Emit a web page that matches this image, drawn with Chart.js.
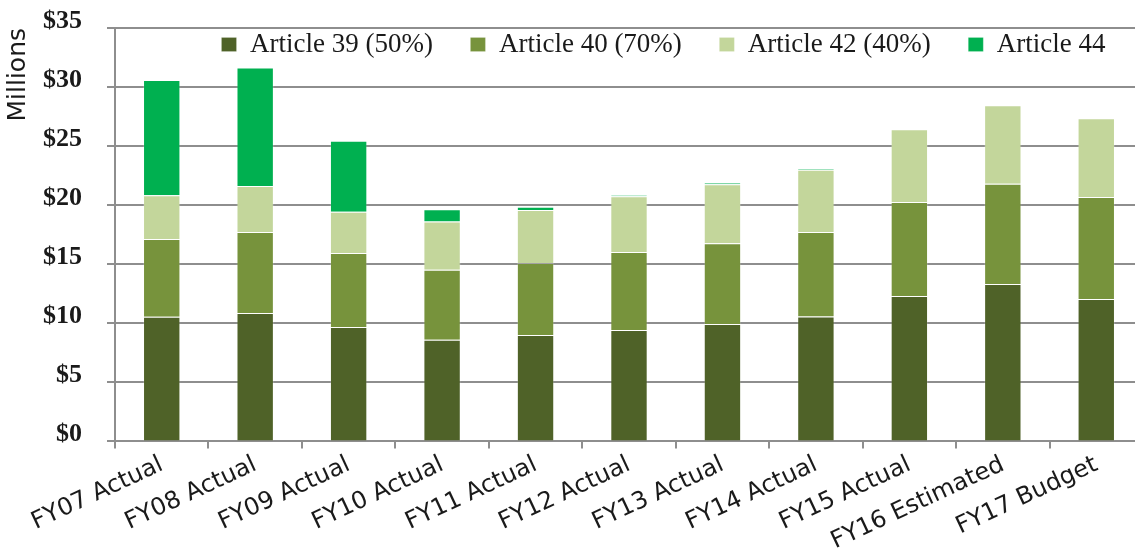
<!DOCTYPE html>
<html>
<head>
<meta charset="utf-8">
<script src="https://cdn.jsdelivr.net/npm/chart.js@4"></script>
<style>
  html, body { margin: 0; padding: 0; background: #fff; overflow: hidden; }
  #wrap { width: 1143px; height: 548px; }
</style>
</head>
<body>
<div id="wrap"><canvas id="funding-chart"></canvas></div>
<script>
const categories = ['FY07 Actual', 'FY08 Actual', 'FY09 Actual', 'FY10 Actual', 'FY11 Actual', 'FY12 Actual',
    'FY13 Actual', 'FY14 Actual', 'FY15 Actual', 'FY16 Estimated', 'FY17 Budget'];
const article39 = [10.55, 10.88, 9.70, 8.62, 9.02, 9.44, 9.95, 10.57, 12.32, 13.34, 12.07];
const article40 = [6.58, 6.85, 6.25, 5.91, 6.08, 6.59, 6.82, 7.16, 7.95, 8.48, 8.63];
const article42 = [3.71, 3.90, 3.50, 4.10, 4.49, 4.72, 5.00, 5.28, 6.17, 6.65, 6.67];
const article44 = [9.75, 10.03, 6.00, 1.02, 0.28, 0.11, 0.14, 0.06, 0, 0, 0];
const yTicks = [0, 5, 10, 15, 20, 25, 30, 35];

const gridColor = '#8e8e8e';
const textColor = '#1a1a1a';

// legend goes inside the plot as one row, just under the $35 line
const legendInPlot = {
    id: 'legendInPlot',
    beforeLayout(chart) {
        chart.legend.isHorizontal = () => true;
    },
    afterLayout(chart) {
        const lg = chart.legend;
        const area = chart.chartArea;
        const dy = lg.options.labels.padding - 3;
        lg.left = area.left;
        lg.right = area.right;
        lg.top = area.top - dy;
        lg.bottom = lg.top + lg.height;
    }
};

const data = {
    labels: categories,
    datasets: [
        { label: 'Article 39 (50%)', data: article39, backgroundColor: '#4f6228' },
        { label: 'Article 40 (70%)', data: article40, backgroundColor: '#77933c' },
        { label: 'Article 42 (40%)', data: article42, backgroundColor: '#c3d69b' },
        { label: 'Article 44', data: article44, backgroundColor: '#00b050' }
    ]
};
data.datasets.forEach(ds => {
    ds.barPercentage = 0.40;
    ds.categoryPercentage = 1.0;
    ds.borderWidth = 1;
    ds.borderColor = 'rgba(255,255,255,0.18)';
});

const options = {
    responsive: true,
    maintainAspectRatio: false,
    animation: false,
    layout: { padding: { top: 28, left: 3, right: 0, bottom: -10 } },
    plugins: {
        tooltip: { enabled: false },
        legend: {
            position: 'chartArea',
            align: 'end',
            labels: {
                boxWidth: 15,
                boxHeight: 14,
                padding: 37.5,
                color: textColor,
                font: { family: 'Liberation Serif', size: 27 }
            }
        }
    },
    scales: {
        x: {
            stacked: true,
            grid: {
                drawOnChartArea: false,
                drawTicks: true,
                tickLength: 7,
                color: gridColor,
                lineWidth: 2,
                offset: true
            },
            border: { color: gridColor, width: 2 },
            ticks: {
                color: textColor,
                minRotation: 25,
                maxRotation: 25,
                padding: 2,
                font: { family: 'DejaVu Sans', size: 24 }
            }
        },
        y: {
            stacked: true,
            min: 0,
            max: 35,
            afterBuildTicks(axis) {
                axis.ticks = yTicks.map(v => ({ value: v }));
            },
            // long tick slot gives the label gap; only the last 8px is drawn
            grid: { color: gridColor, lineWidth: 2, tickLength: 33, tickBorderDash: [0, 25, 8, 0] },
            border: { color: gridColor, width: 2 },
            ticks: {
                color: textColor,
                padding: 0,
                labelOffset: -7,
                font: { family: 'Liberation Serif', size: 26, weight: 'bold' },
                callback: v => '$' + v
            },
            title: {
                display: true,
                text: 'Millions',
                align: 'end',
                color: textColor,
                padding: { top: 0, bottom: 10 },
                font: { family: 'DejaVu Sans', size: 25 }
            }
        }
    }
};

new Chart(document.querySelector('#funding-chart'), {
    type: 'bar',
    data,
    options,
    plugins: [legendInPlot]
});
</script>
</body>
</html>
